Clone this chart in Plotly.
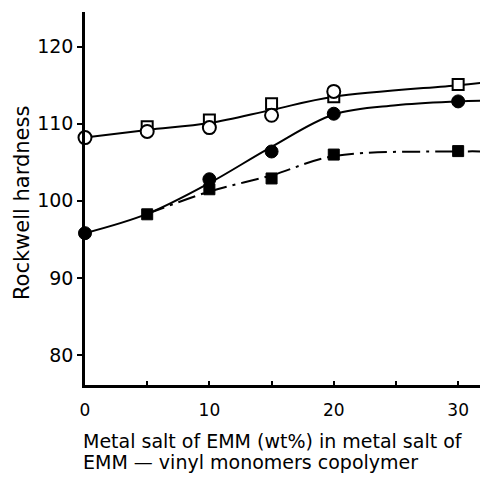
import plotly.graph_objects as go

# Measured points
x_open_circle = [0, 5, 10, 15, 20]
y_open_circle = [108.2, 109.0, 109.5, 111.1, 114.2]

x_open_square = [5, 10, 15, 20, 30]
y_open_square = [109.6, 110.5, 112.6, 113.5, 115.1]

x_filled_circle = [0, 10, 15, 20, 30]
y_filled_circle = [95.8, 102.8, 106.4, 111.3, 112.9]

x_filled_square = [5, 10, 15, 20, 30]
y_filled_square = [98.25, 101.5, 102.9, 106.0, 106.45]

# Smooth fitted curves
x_curve_open = [0, 5, 10, 15, 20, 30, 32.4]
y_curve_open = [108.2, 109.2, 110.1, 111.8, 113.5, 115.0, 115.4]

x_curve_filled_circle = [0, 5, 10, 15, 20, 25, 30, 31.9]
y_curve_filled_circle = [95.8, 98.3, 102.3, 107.0, 111.2, 112.4, 112.9, 113.0]

x_curve_filled_square = [5, 10, 15, 20, 30, 32.4]
y_curve_filled_square = [98.3, 101.2, 103.3, 105.8, 106.4, 106.4]

y_ticks = [80, 90, 100, 110, 120]
x_ticks = [0, 10, 20, 30]
x_minor_ticks = [5, 15, 25]

y_title = "Rockwell hardness"
x_title_lines = ["Metal salt of EMM (wt%) in metal salt of", "EMM — vinyl monomers copolymer"]

FONT = "DejaVu Sans"
fig = go.Figure()

line_style = dict(color="black", width=2, shape="spline", smoothing=1)
fig.add_trace(go.Scatter(x=x_curve_open, y=y_curve_open, mode="lines", line=line_style))
fig.add_trace(go.Scatter(x=x_curve_filled_circle, y=y_curve_filled_circle, mode="lines", line=line_style))
fig.add_trace(go.Scatter(x=x_curve_filled_square, y=y_curve_filled_square, mode="lines",
                         line=dict(color="black", width=2, shape="spline", smoothing=1, dash="18px,6px,3px,6px")))

fig.add_trace(go.Scatter(x=x_open_square, y=y_open_square, mode="markers",
                         marker=dict(symbol="square", size=11, color="white", line=dict(color="black", width=2))))
fig.add_trace(go.Scatter(x=x_open_circle, y=y_open_circle, mode="markers",
                         marker=dict(symbol="circle", size=13, color="white", line=dict(color="black", width=2))))
fig.add_trace(go.Scatter(x=x_filled_circle, y=y_filled_circle, mode="markers",
                         marker=dict(symbol="circle", size=13, color="black", line=dict(color="black", width=1))))
fig.add_trace(go.Scatter(x=x_filled_square, y=y_filled_square, mode="markers",
                         marker=dict(symbol="square", size=11, color="black", line=dict(color="black", width=1))))

for tr in fig.data:
    tr.cliponaxis = False

fig.update_layout(
    width=480, height=469,
    margin=dict(l=77, r=0, t=4, b=92),
    paper_bgcolor="white", plot_bgcolor="white",
    showlegend=False,
    font=dict(family=FONT, color="black", size=16),
    xaxis=dict(range=[0, 32.4], tickvals=x_ticks, ticks="inside", ticklen=4, tickwidth=2,
               tickcolor="black", showline=True, linecolor="black", linewidth=2.5,
               showgrid=False, zeroline=False, tickfont=dict(size=17, family=FONT),
               ticklabelstandoff=8,
               minor=dict(tickvals=x_minor_ticks, ticks="inside", ticklen=4, tickwidth=2, tickcolor="black")),
    yaxis=dict(range=[76.1, 124.5], tickvals=y_ticks, ticks="outside", ticklen=5, tickwidth=2,
               tickcolor="black", showline=True, linecolor="black", linewidth=2.5,
               showgrid=False, zeroline=False, tickfont=dict(size=19, family=FONT)),
)

fig.add_annotation(text=y_title, xref="paper", yref="paper", x=-0.156, y=0.488,
                   xanchor="center", yanchor="middle", textangle=-90, showarrow=False,
                   font=dict(size=21, family=FONT))
fig.add_annotation(text=x_title_lines[0], xref="paper", yref="paper",
                   x=-0.010, y=-0.150, xanchor="left", yanchor="middle", showarrow=False,
                   font=dict(size=19, family=FONT))
fig.add_annotation(text=x_title_lines[1], xref="paper", yref="paper",
                   x=-0.010, y=-0.206, xanchor="left", yanchor="middle", showarrow=False,
                   font=dict(size=19, family=FONT))

fig.write_html("out.html")
